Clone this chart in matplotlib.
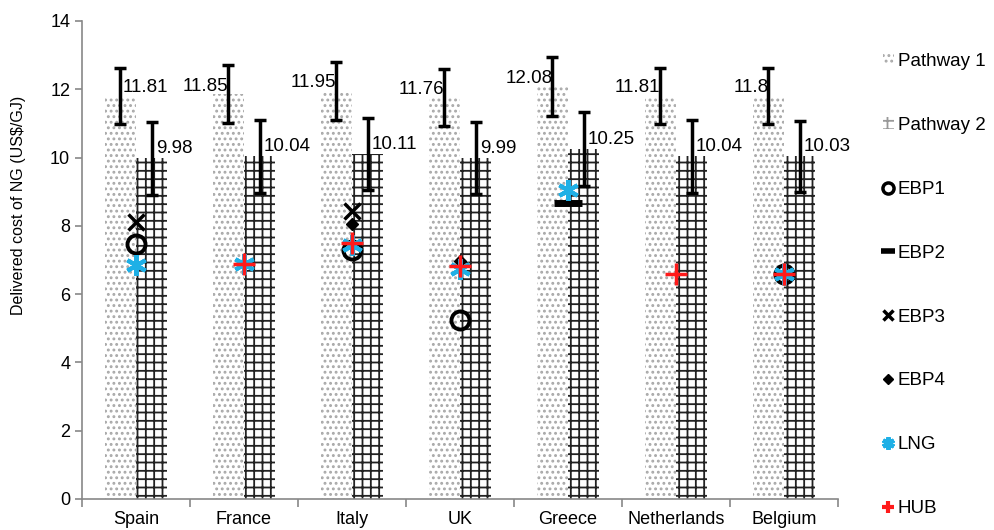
import numpy as np
import matplotlib.pyplot as plt
from matplotlib.lines import Line2D
from matplotlib.patches import Patch

countries = ['Spain', 'France', 'Italy', 'UK', 'Greece', 'Netherlands', 'Belgium']
pathway1 = [11.81, 11.85, 11.95, 11.76, 12.08, 11.81, 11.8]
pathway2 = [9.98, 10.04, 10.11, 9.99, 10.25, 10.04, 10.03]
err1 = [0.82, 0.85, 0.86, 0.84, 0.87, 0.82, 0.82]
err2 = [1.07, 1.07, 1.06, 1.06, 1.08, 1.07, 1.05]

nan = np.nan
ebp1 = [7.48, nan, 7.3, 5.24, nan, nan, 6.58]
ebp2 = [nan, nan, nan, nan, 8.66, nan, nan]
ebp3 = [8.12, nan, 8.42, nan, nan, nan, nan]
ebp4 = [nan, nan, 8.06, 6.98, nan, nan, 6.6]
lng = [6.85, 6.88, 7.45, 6.75, 9.05, nan, 6.58]
hub = [nan, 6.88, 7.5, 6.82, nan, 6.6, 6.58]

plt.rcParams['font.family'] = ['Liberation Sans', 'DejaVu Sans']
plt.rcParams['hatch.linewidth'] = 1.3

fig = plt.figure(figsize=(9.94, 5.30), dpi=100)
ax = fig.add_axes([0.0825, 0.0585, 0.7605, 0.902])

x = np.arange(len(countries))
w = 0.29
ax.bar(x - w/2, pathway1, w, color='white', edgecolor='#a8a8a8', linewidth=0,
       hatch='...', yerr=err1, error_kw=dict(ecolor='black', elinewidth=2.5, capsize=4.5, capthick=2.5))
ax.bar(x + w/2, pathway2, w, color='white', edgecolor='#222222', linewidth=0,
       hatch='++', yerr=err2, error_kw=dict(ecolor='black', elinewidth=2.5, capsize=4.5, capthick=2.5))

for i in range(len(countries)):
    if i == 0:
        ax.annotate(f'{pathway1[i]:g}', (x[i] - w/2, pathway1[i]), xytext=(2, 6),
                    textcoords='offset points', ha='left', va='center', fontsize=13.5)
    else:
        ax.annotate(f'{pathway1[i]:g}', (x[i] - w/2, pathway1[i]), xytext=(0, 6),
                    textcoords='offset points', ha='right', va='center', fontsize=13.5)
    ax.annotate(f'{pathway2[i]:g}', (x[i] + w/2, pathway2[i]), xytext=(3, 7),
                textcoords='offset points', ha='left', va='center', fontsize=13.5)

ax.plot(x, ebp1, 'o', ms=13, mfc='none', mec='black', mew=2.8, ls='none')
ax.plot(x, ebp2, '_', ms=20, mec='black', mew=5, ls='none')
ax.plot(x, ebp3, 'x', ms=11, mec='black', mew=2.5, ls='none')
ax.plot(x, ebp4, 'D', ms=6, mfc='black', mec='black', ls='none')
ax.plot(x, lng, marker=(6, 2, 0), ms=15, mec='#1fb0e6', mew=3, ls='none')
ax.plot(x, hub, '+', ms=16, mec='#ff1a1a', mew=2.5, ls='none')

ax.set_xlim(-0.5, len(countries) - 0.5)
ax.set_ylim(0, 14)
ax.set_yticks(np.arange(0, 15, 2))
ax.set_xticks(x)
ax.set_xticklabels(countries, fontsize=13)
ax.set_xticks(np.arange(-0.5, len(countries), 1), minor=True)
ax.tick_params(axis='x', which='major', length=0, pad=9)
ax.tick_params(axis='x', which='minor', length=6, color='#888888', width=1.2)
ax.tick_params(axis='y', length=5, color='#888888', width=1.2, labelsize=13)
for s in ['top', 'right']:
    ax.spines[s].set_visible(False)
for s in ['left', 'bottom']:
    ax.spines[s].set_color('#888888')
    ax.spines[s].set_linewidth(1.2)
ax.set_ylabel('Delivered cost of NG (US$/GJ)', fontsize=11.5)
ax.yaxis.set_label_coords(-0.074, 0.615)

handles = [
    Patch(facecolor='white', edgecolor='#a8a8a8', linewidth=0, hatch='...'),
    Patch(facecolor='white', edgecolor='#999999', linewidth=0, hatch='++'),
    Line2D([], [], marker='o', ms=8, mfc='none', mec='black', mew=2.5, ls='none'),
    Line2D([], [], marker='_', ms=10, mec='black', mew=4, ls='none'),
    Line2D([], [], marker='x', ms=7, mec='black', mew=2.5, ls='none'),
    Line2D([], [], marker='D', ms=5, mfc='black', mec='black', ls='none'),
    Line2D([], [], marker=(6, 2, 0), ms=9, mec='#1fb0e6', mew=3, ls='none'),
    Line2D([], [], marker='+', ms=9, mec='#ff1a1a', mew=3, ls='none'),
]
labels = ['Pathway 1', 'Pathway 2', 'EBP1', 'EBP2', 'EBP3', 'EBP4', 'LNG', 'HUB']
fig.legend(handles, labels, loc='center left', bbox_to_anchor=(0.888, 0.462),
           frameon=False, fontsize=13.5, labelspacing=2.5, handlelength=0.6,
           handleheight=0.6, handletextpad=0.2, borderpad=0, borderaxespad=0)

fig.savefig('out.png', dpi=100)
